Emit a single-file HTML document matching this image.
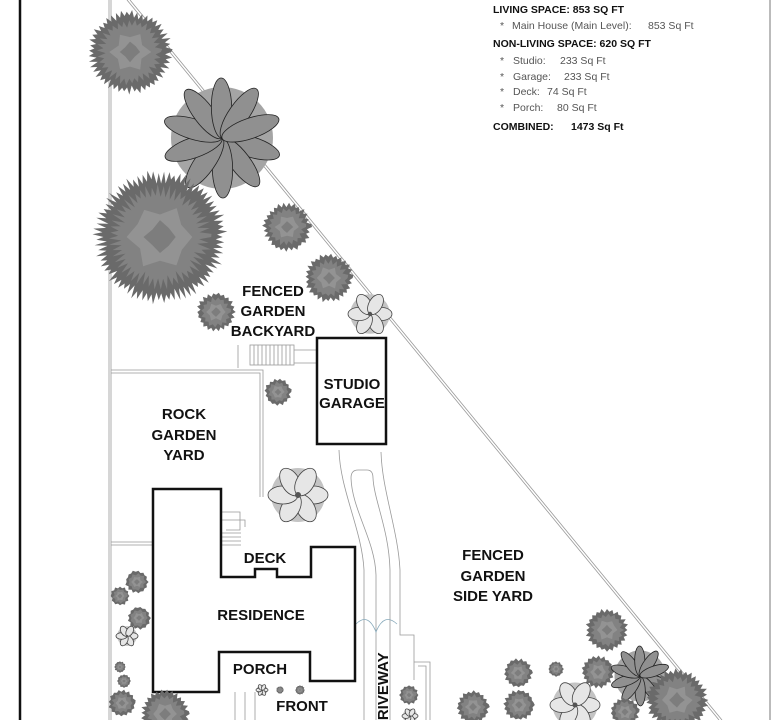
<!DOCTYPE html>
<html><head><meta charset="utf-8"><style>
html,body{margin:0;padding:0;background:#fff;width:773px;height:720px;overflow:hidden}
svg{display:block}
.lbl{font-family:"Liberation Sans",sans-serif;font-weight:bold;font-size:15px;fill:#111;text-anchor:middle}
.t1{font-family:"Liberation Sans",sans-serif;font-size:10.5px;fill:#111;font-weight:bold}
.t2{font-family:"Liberation Sans",sans-serif;font-size:10.5px;fill:#555}
</style></head><body>
<svg id="s" width="773" height="720" viewBox="0 0 773 720" xmlns="http://www.w3.org/2000/svg">
<rect width="773" height="720" fill="#fff"/>
<line x1="20" y1="0" x2="20" y2="720" stroke="#111" stroke-width="2.5"/>
<line x1="770" y1="0" x2="770" y2="720" stroke="#777" stroke-width="1"/>
<g stroke="#999" stroke-width="0.8" fill="none">
<line x1="109" y1="0" x2="109" y2="720"/><line x1="111" y1="0" x2="111" y2="720"/>
<line x1="127" y1="0" x2="719" y2="720"/><line x1="130" y1="0" x2="722" y2="720"/>
<polyline points="111,370 263,370 263,497"/><polyline points="111,373 260,373 260,497"/>
<polyline points="111,542 152,542"/><polyline points="111,545 152,545"/>
<rect x="250" y="345" width="44" height="20"/>
<polyline points="238,345 238,368"/><polyline points="294,350 317,350"/><polyline points="294,363 317,363"/>
<path d="M254,345v20M258,345v20M262,345v20M266,345v20M270,345v20M274,345v20M278,345v20M282,345v20M286,345v20M290,345v20"/>
<polyline points="221,512 240,512 240,530 226,530"/><polyline points="221,520 245,520 245,527"/>
<path d="M221,533h20M221,537h20M221,541h20M221,545h20"/>
<path d="M339,450 C340,490 362,530 364,570 L364,720"/>
<path d="M381,452 C382,490 398,530 400,570 L400,635 L414,635 L414,680"/>
<path d="M376,720 L376,575 C375,540 352,510 351,478 Q351,470 358,470 L367,470 Q373,470 373,478 C374,500 389,530 390,570 L390,720"/>
<polyline points="414,662 430,662 430,720"/><polyline points="418,666 426,666 426,720"/>
<path d="M235,692V720M245,692V720M255,692V720"/>
</g>
<path d="M356,624 Q368,612 376,632 Q384,612 397,624" stroke="#8ab" fill="none" stroke-width="0.8"/>
<g stroke="#111" stroke-width="2.5" fill="none">
<polygon points="153,489 221,489 221,577 255,577 255,569 277,569 277,577 311,577 311,547 355,547 355,681 310,681 310,652 219,652 219,692 153,692"/>
<rect x="317" y="338" width="69" height="106"/>
</g>
<g id="trees"></g>
<text class="lbl" x="273" y="296">FENCED</text>
<text class="lbl" x="273" y="316">GARDEN</text>
<text class="lbl" x="273" y="336">BACKYARD</text>
<text class="lbl" x="352" y="389">STUDIO</text>
<text class="lbl" x="352" y="408">GARAGE</text>
<text class="lbl" x="184" y="419">ROCK</text>
<text class="lbl" x="184" y="440">GARDEN</text>
<text class="lbl" x="184" y="460">YARD</text>
<text class="lbl" x="265" y="563">DECK</text>
<text class="lbl" x="261" y="620">RESIDENCE</text>
<text class="lbl" x="260" y="674">PORCH</text>
<text class="lbl" x="302" y="711">FRONT</text>
<text class="lbl" x="302" y="731">GARDEN</text>
<text class="lbl" x="493" y="560">FENCED</text>
<text class="lbl" x="493" y="581">GARDEN</text>
<text class="lbl" x="493" y="601">SIDE YARD</text>
<text class="lbl" x="0" y="0" transform="translate(388,731) rotate(-90)" style="text-anchor:start">DRIVEWAY</text>
<text class="t1" x="493" y="13">LIVING SPACE: 853 SQ FT</text>
<text class="t2" x="500" y="29">*</text><text class="t2" x="512" y="29">Main House (Main Level):</text><text class="t2" x="648" y="29">853 Sq Ft</text>
<text class="t1" x="493" y="47">NON-LIVING SPACE: 620 SQ FT</text>
<text class="t2" x="500" y="64">*</text><text class="t2" x="513" y="64">Studio:</text><text class="t2" x="560" y="64">233 Sq Ft</text>
<text class="t2" x="500" y="80">*</text><text class="t2" x="513" y="80">Garage:</text><text class="t2" x="564" y="80">233 Sq Ft</text>
<text class="t2" x="500" y="95">*</text><text class="t2" x="513" y="95">Deck:</text><text class="t2" x="547" y="95">74 Sq Ft</text>
<text class="t2" x="500" y="111">*</text><text class="t2" x="513" y="111">Porch:</text><text class="t2" x="557" y="111">80 Sq Ft</text>
<text class="t1" x="493" y="130">COMBINED:</text><text class="t1" x="571" y="130">1473 Sq Ft</text>
</svg>
<script>
var T=[[130,52,43,0],[222,138,60,2],[160,237,68,0],[287,227,25,0],[329,278,25,0],[216,312,20,0],[370,314,22,1],[278,392,14,0],[298,495,30,1],
[137,582,12,0],[120,596,10,0],[139,618,12,0],[127,636,11,1],[120,667,6,0],[124,681,7,0],[122,703,14,0],[165,714,25,0],
[409,695,10,0],[410,716,8,1],[607,630,22,0],[598,672,17,0],[518,673,15,0],[556,669,8,0],[640,676,30,2],[519,705,16,0],[473,707,17,0],[575,705,25,1],[677,700,32,0],[625,712,15,0],
[262,690,6,1],[280,690,4,0],[300,690,5,0]];
var seed=7;function rnd(){seed=(seed*9301+49297)%233280;return seed/233280;}
function jag(x,y,r,n,amp,fill){var pts=[];for(var i=0;i<n;i++){var a=i*2*Math.PI/n,rr=r*(i%2?1-amp*(0.6+0.4*rnd()):1-0.08*rnd());pts.push((x+Math.cos(a)*rr).toFixed(1)+','+(y+Math.sin(a)*rr).toFixed(1));}return '<polygon points="'+pts.join(' ')+'" fill="'+fill+'"/>';}
var g=document.getElementById('trees'),h='';
T.forEach(function(t){var x=t[0],y=t[1],r=t[2],k=t[3];
 if(k==1){var p='';for(var i=0;i<6;i++){var a=i*Math.PI/3;var cx=x+Math.cos(a)*r*0.5,cy=y+Math.sin(a)*r*0.5;p+='<ellipse cx="'+cx+'" cy="'+cy+'" rx="'+r*0.5+'" ry="'+r*0.3+'" transform="rotate('+(i*60)+' '+cx+' '+cy+')" fill="#e6e6e6" stroke="#444" stroke-width="0.8"/>';}h+='<circle cx="'+x+'" cy="'+y+'" r="'+r*0.9+'" fill="#c4c4c4"/>'+p+'<circle cx="'+x+'" cy="'+y+'" r="'+r*0.1+'" fill="#555"/>';}
 else if(k==2){h+='<circle cx="'+x+'" cy="'+y+'" r="'+r*0.85+'" fill="#a5a5a5"/>';for(var i=0;i<10;i++){var a=i*Math.PI/5+0.3,cx=x+Math.cos(a)*r*0.5,cy=y+Math.sin(a)*r*0.5;h+='<ellipse cx="'+cx+'" cy="'+cy+'" rx="'+r*0.5+'" ry="'+r*0.17+'" transform="rotate('+(i*36+17)+' '+cx+' '+cy+')" fill="#909090" stroke="#222" stroke-width="0.8"/>';}}
 else{var n=Math.max(24,Math.round(r*2.2));
 h+=jag(x,y,r,n,0.22,'#6a6a6a')+jag(x,y,r*0.78,Math.round(n*0.7),0.3,'#828282')+jag(x,y,r*0.5,12,0.4,'#939393')+jag(x,y,r*0.25,8,0.4,'#7d7d7d');}
});
g.innerHTML=h;
</script>
</body></html>
